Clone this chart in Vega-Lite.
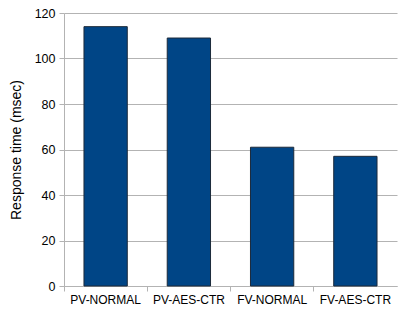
{
  "$schema": "https://vega.github.io/schema/vega-lite/v6.json",
  "width": 333,
  "height": 273,
  "autosize": "none",
  "padding": {"left": 64, "top": 13, "right": 1, "bottom": 28},
  "background": "white",
  "config": {
    "view": {"stroke": null},
    "font": "Liberation Sans"
  },
  "data": {
    "values": [
      {"config": "PV-NORMAL", "time": 114},
      {"config": "PV-AES-CTR", "time": 109},
      {"config": "FV-NORMAL", "time": 61},
      {"config": "FV-AES-CTR", "time": 57}
    ]
  },
  "mark": {"type": "bar", "color": "#004586", "stroke": "#1c2a3a", "strokeWidth": 1, "width": {"band": 0.52}},
  "encoding": {
    "x": {
      "field": "config",
      "type": "nominal",
      "sort": null,
      "scale": {"paddingInner": 0, "paddingOuter": 0},
      "axis": {
        "title": null,
        "labelAngle": 0,
        "bandPosition": 0,
        "labelFontSize": 12,
        "labelColor": "black",
        "domainColor": "#b3b3b3",
        "tickColor": "#b3b3b3",
        "tickSize": 5,
        "labelPadding": 3,
        "grid": false
      }
    },
    "y": {
      "field": "time",
      "type": "quantitative",
      "scale": {"domain": [0, 120]},
      "axis": {
        "title": "Response time (msec)",
        "titleFontSize": 14,
        "titleFontWeight": "normal",
        "titleColor": "black",
        "titlePadding": 11,
        "values": [0, 20, 40, 60, 80, 100, 120],
        "labelFontSize": 12.5,
        "labelColor": "black",
        "labelPadding": 4,
        "tickSize": 5,
        "tickColor": "#b3b3b3",
        "domainColor": "#b3b3b3",
        "gridColor": "#b3b3b3",
        "grid": true
      }
    }
  }
}
